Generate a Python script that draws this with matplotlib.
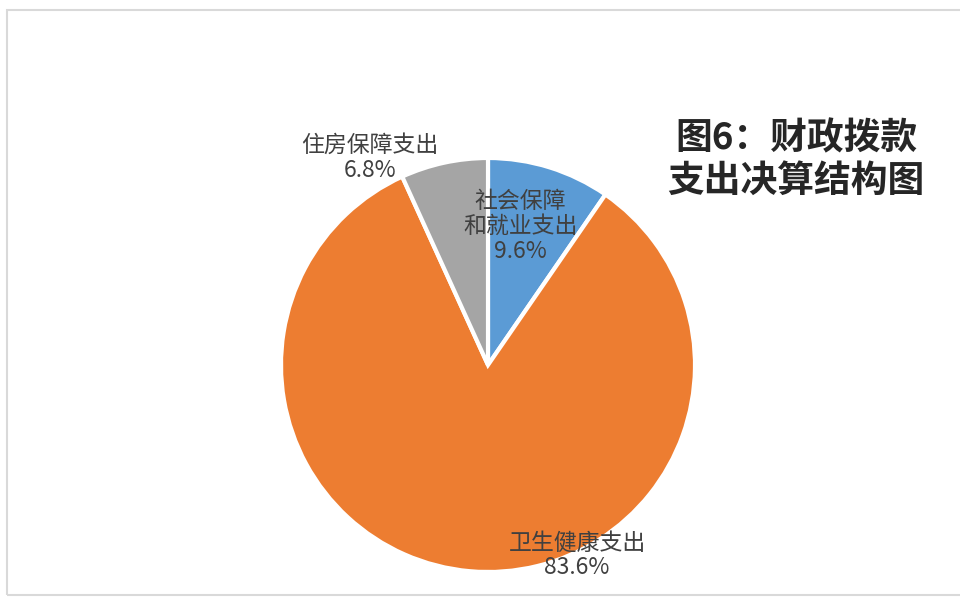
import matplotlib
matplotlib.use('Agg')
import matplotlib.pyplot as plt
from matplotlib.patches import Rectangle

plt.rcParams['font.family'] = ['Noto Sans CJK SC', 'DejaVu Sans']

# 财政拨款支出决算结构
categories = ['社会保障\n和就业支出', '卫生健康支出', '住房保障支出']
shares = [9.6, 83.6, 6.8]
colors = ['#5B9BD5', '#ED7D31', '#A5A5A5']
# label positions in pie coordinates (radius = 1)
label_pos = [(0.155, 0.67), (0.43, -0.92), (-0.57, 1.00)]

W, H = 960, 597
fig = plt.figure(figsize=(W / 100, H / 100), dpi=100)
fig.patch.set_facecolor('white')

# light frame around the chart area
fig.patches.append(Rectangle((7 / W, 2 / H), 1.0, (H - 12) / H, transform=fig.transFigure,
                             fill=False, edgecolor='#D9D9D9', linewidth=1.5))

cx, cy, r = 488, 365, 207
ax = fig.add_axes([(cx - r) / W, (H - cy - r) / H, 2 * r / W, 2 * r / H])
ax.pie(shares, colors=colors, startangle=90, counterclock=False, radius=1,
       wedgeprops=dict(edgecolor='white', linewidth=3))
ax.set_xlim(-1, 1)
ax.set_ylim(-1, 1)
ax.set_aspect('equal')
ax.axis('off')

for name, val, (x, y) in zip(categories, shares, label_pos):
    ax.text(x, y, f'{name}\n{val:.1f}%', ha='center', va='center', fontsize=16.5,
            color='#404040', linespacing=1.1, clip_on=False)

fig.text(796 / W, 1 - 160 / H, '图6：财政拨款\n支出决算结构图', ha='center', va='center',
         fontsize=26.5, fontweight='bold', color='#262626', linespacing=1.2)

fig.savefig('out.png', dpi=100)
